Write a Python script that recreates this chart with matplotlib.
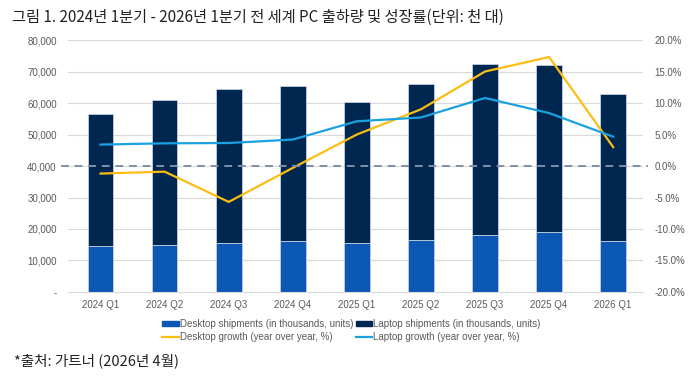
import matplotlib
matplotlib.use('Agg')
import matplotlib.pyplot as plt
from matplotlib.patches import Patch
from matplotlib.lines import Line2D
from matplotlib.ticker import FuncFormatter

plt.rcParams['font.family'] = ['Noto Sans CJK KR', 'DejaVu Sans']
latin = ['Liberation Sans', 'DejaVu Sans']

quarters = ['2024 Q1', '2024 Q2', '2024 Q3', '2024 Q4', '2025 Q1',
            '2025 Q2', '2025 Q3', '2025 Q4', '2026 Q1']
desktop = [14.7, 15.0, 15.6, 16.1, 15.4, 16.5, 18.0, 18.9, 16.1]
total = [56.5, 61.0, 64.5, 65.4, 60.3, 65.9, 72.3, 72.2, 62.9]
laptop = [t - d for t, d in zip(total, desktop)]
desktop = [d * 1000 for d in desktop]
laptop = [l * 1000 for l in laptop]
desktop_growth = [-1.2, -0.9, -5.7, -0.3, 5.0, 9.0, 15.0, 17.3, 3.0]
laptop_growth = [3.4, 3.6, 3.65, 4.2, 7.1, 7.7, 10.8, 8.4, 4.65]

c_desk = '#0a58b4'
c_lap = '#00274f'
c_dg = '#fbbd14'
c_lg = '#1ba1e2'
grey = '#595959'

fig = plt.figure(figsize=(7, 3.8), dpi=100)
ax = fig.add_axes([0.097, 0.2316, 0.822, 0.6631])
x = list(range(len(quarters)))

ax.bar(x, desktop, width=0.4, color=c_desk, edgecolor='#c5d0e0', linewidth=0.6, zorder=2)
ax.bar(x, laptop, width=0.4, bottom=desktop, color=c_lap, edgecolor='#c5d0e0', linewidth=0.6, zorder=2)
ax.set_ylim(0, 80000)
ax.set_xlim(-0.51, 8.47)
ax.set_yticks(range(0, 80001, 10000))
ax.yaxis.set_major_formatter(FuncFormatter(lambda v, p: '-' if v == 0 else f'{int(v):,}'))
ax.set_xticks(x)
ax.set_xticklabels(quarters)
ax.grid(axis='y', color='#d9d9d9', linewidth=0.8, zorder=0)
ax.set_axisbelow(True)
for s in ['top', 'right', 'left']:
    ax.spines[s].set_visible(False)
ax.spines['bottom'].set_color('#d9d9d9')
ax.tick_params(length=0, labelsize=7, colors=grey, pad=6, labelfontfamily=latin)
ax.tick_params(axis='y', pad=8)

ax2 = ax.twinx()
ax2.plot(x, desktop_growth, color=c_dg, linewidth=1.6, zorder=3)
ax2.plot(x, laptop_growth, color=c_lg, linewidth=1.6, zorder=3)
ax2.set_ylim(-20, 20)
ax2.set_yticks(range(-20, 21, 5))
ax2.yaxis.set_major_formatter(FuncFormatter(lambda v, p: f'{v:.1f}%'))
for s in ax2.spines.values():
    s.set_visible(False)
ax2.tick_params(length=0, labelsize=7, colors=grey, pad=8, labelfontfamily=latin)
ax2.plot([-0.62, 8.55], [0, 0], color='#7f8faa', linewidth=1.4,
         linestyle=(0, (4, 3)), clip_on=False, zorder=4)
ax2.set_xlim(-0.51, 8.47)

handles = [Patch(color=c_desk), Line2D([], [], color=c_dg, linewidth=1.6),
           Patch(color=c_lap), Line2D([], [], color=c_lg, linewidth=1.6)]
labels = ['Desktop shipments (in thousands, units)', 'Desktop growth (year over year, %)',
          'Laptop shipments (in thousands, units)', 'Laptop growth (year over year, %)']
fig.legend(handles, labels, ncol=2, loc='center', bbox_to_anchor=(0.502, 0.13),
           frameon=False, labelcolor=grey, handlelength=1.7,
           handletextpad=0.1, columnspacing=0.3, labelspacing=0.35,
           handleheight=0.4, prop={'family': latin, 'size': 7})

fig.text(0.017, 0.955, '그림 1. 2024년 1분기 - 2026년 1분기 전 세계 PC 출하량 및 성장률(단위: 천 대)',
         fontsize=11, fontweight='medium', color='#222222', va='center')
fig.text(0.02, 0.05, '*출처: 가트너 (2026년 4월)', fontsize=10.5, color='#222222', va='center')

fig.savefig('out.png', dpi=100)
